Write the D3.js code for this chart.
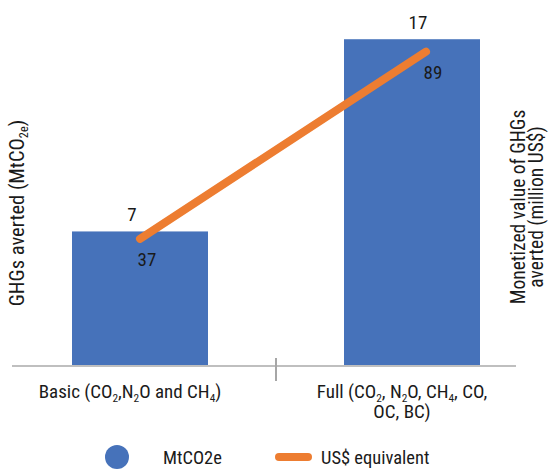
<!DOCTYPE html>
<html><head><meta charset="utf-8">
<script src="https://cdn.jsdelivr.net/npm/d3@7"></script>
<style>
html,body{margin:0;padding:0;background:#fff;}
text{font-family:"Liberation Sans Narrow","Roboto Condensed","DejaVu Sans Condensed",Roboto,sans-serif;fill:#1a1a1a;}
</style></head>
<body>
<svg id="c" width="548" height="473"></svg>
<script>
const categories = ["Basic", "Full"];
const categoryLabels = [["Basic (CO_2,N_2O and CH_4)"], ["Full (CO_2, N_2O, CH_4, CO,", "OC, BC)"]];
const mtco2e = [7, 17];
const usdEquivalent = [37, 89];
const leftTitle = "GHGs averted (MtCO_2e)";
const rightTitle = ["Monetized value of GHGs", "averted (million US$)"];
const legendLabels = ["MtCO2e", "US$ equivalent"];

const barColor = "#4672BA", lineColor = "#ED7D31", axisColor = "#BFBFBF";
const svg = d3.select("#c");

const x = d3.scaleBand().domain(categories).range([4, 548]).paddingInner(0).paddingOuter(0);
const xLine = d3.scalePoint().domain(categories).range([140, 426]);
const y = d3.scaleLinear().domain([0, 18]).range([366, 20]);
const y2 = d3.scaleLinear().domain([0, 100]).range([372, 12]);

function addSubText(sel, str, size) {
  const parts = [];
  let i = 0, buf = "";
  while (i < str.length) {
    if (str[i] === "_") {
      if (buf) parts.push({t: buf, sub: false}); buf = "";
      i++; let s = "";
      while (i < str.length && /[0-9a-z]/.test(str[i])) { s += str[i]; i++; }
      parts.push({t: s, sub: true});
    } else { buf += str[i]; i++; }
  }
  if (buf) parts.push({t: buf, sub: false});
  let shifted = false;
  parts.forEach(p => {
    const ts = sel.append("tspan").text(p.t);
    if (p.sub) { ts.attr("font-size", size * 0.6).attr("dy", size * 0.2); shifted = true; }
    else if (shifted) { ts.attr("dy", -size * 0.2); shifted = false; }
  });
}

// bars
svg.append("g").selectAll("rect").data(categories).join("rect")
  .attr("x", d => x(d) + x.bandwidth() * 0.25)
  .attr("width", x.bandwidth() * 0.5)
  .attr("y", (d, i) => y(mtco2e[i]))
  .attr("height", (d, i) => y(0) - y(mtco2e[i]))
  .attr("fill", barColor);

// axis line
const ax = svg.append("g").attr("transform", `translate(0,${y(0)})`);
ax.append("line").attr("x1", 12).attr("x2", 516).attr("stroke", axisColor).attr("stroke-width", 2);
ax.append("line").attr("x1", x(categories[1])).attr("x2", x(categories[1]))
  .attr("y1", -8).attr("y2", 15).attr("stroke", "#A6A6A6").attr("stroke-width", 2);

// line
const lineGen = d3.line().x((d, i) => xLine(categories[i])).y(d => y2(d));
svg.append("path").datum(usdEquivalent).attr("d", lineGen)
  .attr("fill", "none").attr("stroke", lineColor).attr("stroke-width", 8).attr("stroke-linecap", "round");

// bar labels
svg.append("g").selectAll("text").data(categories).join("text")
  .attr("x", (d, i) => xLine(d) - 8)
  .attr("y", (d, i) => y(mtco2e[i]) - 10)
  .attr("text-anchor", "middle").attr("font-size", 19)
  .text((d, i) => mtco2e[i]);

// line labels
svg.append("g").selectAll("text").data(categories).join("text")
  .attr("x", (d, i) => xLine(d) + 7)
  .attr("y", (d, i) => y2(usdEquivalent[i]) + 27)
  .attr("text-anchor", "middle").attr("font-size", 19)
  .text((d, i) => usdEquivalent[i]);

// category labels
categories.forEach((c, i) => {
  categoryLabels[i].forEach((ln, j) => {
    const t = svg.append("text").attr("x", x(c) + x.bandwidth() / 2 - 10)
      .attr("y", 398 + j * 20).attr("text-anchor", "middle").attr("font-size", 19);
    addSubText(t, ln, 19);
  });
});

// left title
const lt = svg.append("text").attr("transform", "translate(24,213) rotate(-90)")
  .attr("text-anchor", "middle").attr("font-size", 20.5);
addSubText(lt, leftTitle, 20.5);

// right title
rightTitle.forEach((ln, j) => {
  svg.append("text").attr("transform", `translate(${525 + j * 18},207) rotate(-90)`)
    .attr("text-anchor", "middle").attr("font-size", 19.5).text(ln);
});

// legend
const lg = svg.append("g");
lg.append("circle").attr("cx", 117).attr("cy", 457).attr("r", 12).attr("fill", barColor);
lg.append("text").attr("x", 163).attr("y", 464).attr("font-size", 18.5).text(legendLabels[0]);
lg.append("line").attr("x1", 279).attr("x2", 308).attr("y1", 457).attr("y2", 457)
  .attr("stroke", lineColor).attr("stroke-width", 8).attr("stroke-linecap", "round");
lg.append("text").attr("x", 321).attr("y", 464).attr("font-size", 18.5).text(legendLabels[1]);
</script>
</body></html>
